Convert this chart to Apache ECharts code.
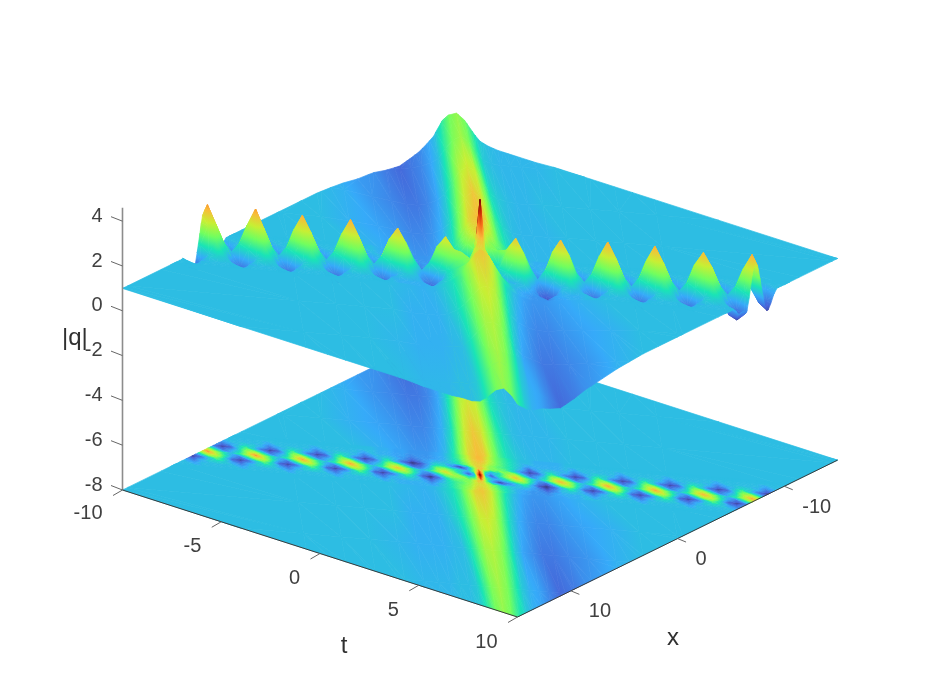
<!DOCTYPE html>
<html><head><meta charset="utf-8">
<style>html,body{margin:0;padding:0;background:#fff}#c{width:926px;height:695px}</style>
<script src="https://cdn.jsdelivr.net/npm/echarts@6/dist/echarts.min.js"></script>
</head><body><div id="c"></div>
<script>
// ---- tick labels ----
const zTicks = [4, 2, 0, -2, -4, -6, -8];
const tTicks = [-10, -5, 0, 5, 10];
const xTicks = [10, 0, -10];

// ---- heights, |q| x 10 ----
// Mesh follows the two features: v = offset from the breather chain, w = offset from the soliton band.
const chainV = [-3, -2.5, -2, -1.5, -1, -0.5, 0, 0.5, 1, 1.5, 2, 2.5, 3];
const chainW = [-16.55,-16.1,-15.65,-15.2,-14.8,
 -14.39,-13.97,-13.55,-13.12,-12.7,-12.27,
 -11.85,-11.44,-11.03,-10.62,-10.2,-9.79,
 -9.38,-8.96,-8.53,-8.11,-7.69,-7.26,
 -6.84,-6.43,-6.01,-5.6,-5.18,-4.77,
 -4.35,-3.93,-3.51,-3.08,-2.66,-2.24,
 -1.82,-1.4,-1,-0.6,-0.3,-0.15,0,0.15,0.3,0.6,1,1.4,
 1.88,2.28,2.67,3.06,3.46,3.85,
 4.25,4.67,5.08,5.5,5.91,6.33,
 6.74,7.16,7.57,7.99,8.4,8.82,
 9.23,9.66,10.08,10.51,10.94,11.36,
 11.79,12.22,12.64,13.07,13.5,13.93,
 14.36,14.78,15.2,15.62,16.04,16.46,16.6];
const chainM30 = [10,10,10,10,10, 10,10,10,10,10,10, 10,10,10,10,10,10, 10,10,10,10,10,10, 10,10,10,10,9,9, 8,8,7,7,7,8, 9,12,16,22,26,27,28,28,27,23,18,15, 12,10,10,9,9,9, 9,10,10,10,10,10, 10,10,10,10,10,10, 10,10,10,10,10,10, 10,10,10,10,10,10, 10,10,10,10,10,10,10];
const chainM25 = [10,10,10,10,10, 10,10,10,10,10,10, 10,10,10,10,10,10, 10,10,10,10,10,10, 10,10,10,10,9,9, 8,8,7,7,7,8, 9,12,16,22,26,27,28,28,27,23,18,15, 12,10,10,9,9,9, 9,10,10,10,10,10, 10,10,10,10,10,10, 10,10,10,10,10,10, 10,10,10,10,10,10, 10,10,10,10,10,10,10];
const chainM20 = [10,8,10,10,10, 10,10,8,10,10,10, 10,10,8,10,10,10, 10,10,8,10,10,10, 10,10,8,10,9,9, 8,8,6,7,7,8, 9,12,15,21,25,26,27,27,26,22,18,15, 12,10,8,9,9,9, 9,10,8,10,10,10, 10,10,8,10,10,10, 10,10,8,10,10,10, 10,10,8,10,10,10, 10,10,8,10,10,10,10];
const chainM15 = [9,5,8,10,12, 11,9,5,8,10,12, 11,9,5,8,10,12, 11,9,5,8,10,12, 11,9,5,8,10,11, 9,7,4,6,8,10, 10,11,14,19,24,26,26,26,24,20,17,15, 12,9,4,8,10,11, 10,9,5,8,10,12, 11,9,5,8,10,12, 11,9,5,8,10,12, 11,9,5,8,10,12, 11,9,5,8,10,12,11];
const chainM10 = [5,2,4,11,17, 11,5,2,4,11,17, 11,5,2,4,11,17, 11,5,2,4,11,17, 11,5,2,4,10,15, 9,4,1,3,8,13, 12,7,2,8,18,24,27,27,24,19,18,17, 12,6,2,4,10,15, 10,5,2,4,11,17, 11,5,2,4,11,17, 11,5,2,4,11,17, 11,5,2,4,11,17, 11,5,2,4,11,17,11];
const chainM05 = [13,5,8,12,21, 22,13,5,8,12,21, 22,13,5,8,12,21, 22,13,5,8,12,21, 22,13,5,8,12,20, 20,12,4,5,10,19, 20,15,12,9,18,26,36,26,14,9,13,20, 22,13,5,8,12,21, 21,13,5,8,12,21, 22,13,5,8,12,21, 22,13,5,8,12,21, 22,13,5,8,12,21, 22,13,5,8,12,21,22];
const chain00 = [22,14,10,14,22, 30,22,14,10,14,22, 30,22,14,10,14,22, 29,22,14,10,14,22, 29,22,14,10,14,22, 27,21,14,9,13,20, 25,19,12,4,10,30,43,30,10,4,13,20, 27,21,14,9,14,22, 28,22,14,10,14,22, 29,22,14,10,14,22, 29,22,14,10,14,22, 28,22,14,10,14,22, 29,22,14,10,14,22,29];
const chainP05 = [23,15,8,5,13, 22,23,15,8,5,13, 22,23,15,8,5,13, 22,23,15,8,5,13, 22,23,15,8,5,13, 20,21,14,7,5,11, 19,21,20,14,16,26,36,26,16,10,9,13, 20,21,13,6,4,11, 21,22,14,8,5,13, 22,23,15,8,5,13, 22,23,15,8,5,13, 22,23,15,8,5,13, 22,23,15,8,5,13,22];
const chainP10 = [17,12,4,2,5, 11,17,12,4,2,5, 11,17,12,4,2,5, 11,17,12,4,2,5, 11,17,12,4,2,5, 10,15,11,4,1,5, 13,17,18,19,24,27,27,24,18,8,2,6, 10,14,9,3,1,4, 10,15,11,4,2,5, 11,17,12,4,2,5, 11,17,12,4,2,5, 11,17,12,4,2,5, 11,17,12,4,2,5,11];
const chainP15 = [12,11,8,5,9, 11,12,11,8,5,9, 11,12,11,8,5,9, 11,12,11,8,5,9, 11,12,11,8,5,9, 10,11,10,8,4,8, 12,15,17,20,24,25,25,25,23,19,14,11, 10,10,8,6,3,6, 10,11,10,8,5,9, 11,12,11,8,5,9, 11,12,11,8,5,9, 11,12,11,8,5,9, 11,12,11,8,5,9,11];
const chainP20 = [10,10,10,8,10, 10,10,10,10,8,10, 10,10,10,10,8,10, 10,10,10,10,8,10, 10,10,10,10,8,10, 9,9,9,9,7,10, 12,15,18,21,25,26,26,25,24,20,15,12, 9,8,7,7,6,8, 9,9,9,10,8,10, 10,10,10,10,8,10, 10,10,10,10,8,10, 10,10,10,10,8,10, 10,10,10,10,8,10,10];
const chainP25 = [10,10,10,10,10, 10,10,10,10,10,10, 10,10,10,10,10,10, 10,10,10,10,10,10, 10,10,10,10,10,10, 9,9,9,9,9,10, 12,15,18,22,26,27,27,26,25,21,16,12, 9,8,7,7,7,8, 8,9,9,10,10,10, 10,10,10,10,10,10, 10,10,10,10,10,10, 10,10,10,10,10,10, 10,10,10,10,10,10,10];
const chainP30 = [10,10,10,10,10, 10,10,10,10,10,10, 10,10,10,10,10,10, 10,10,10,10,10,10, 10,10,10,10,10,10, 9,9,9,9,9,10, 12,15,18,22,26,27,27,26,25,21,16,12, 9,8,7,7,7,8, 8,9,9,10,10,10, 10,10,10,10,10,10, 10,10,10,10,10,10, 10,10,10,10,10,10, 10,10,10,10,10,10,10];
const farW = [-20,-10,-8,-6.5,-5,-4,-3.2,-2.6,-2.1,-1.6,-1.2,-0.8,-0.4,0,0.4,0.8,1.2,1.6,2.1,2.6,3.2,4,5,6.5,8,10,20];
const backV = [-23, -18, -12, -7, -2.6];
const backA = [10,10,9,8,7,5,4,5,6,8,10,14,18,20,18,14,11,10,9.5,9.5,9.5,9.5,10,10,10,10,10];
const backB = [10,10,9,8,7,5,4,5,6,8,10,15,19,21,19,15,11,10,9.5,9.5,9.5,9.5,10,10,10,10,10];
const backC = [10,10,10,9,7,6,5,5,6,8,11,16,22,24,23,18,13,11,10,9.5,9.5,10,10,10,10,10,10];
const backD = [10,10,10,9,8,7,6,6,7,9,12,18,24,27,25,20,15,12,10,9.5,9.5,9.5,10,10,10,10,10];
const backE = [10,10,10,10,9,8,7,7,8,10,14,20,26,28,27,21,16,13,11,10,9.5,9.5,10,10,10,10,10];
const frontV = [2.6, 7, 12, 18, 23];
const frontA = [10,10,10,10,10,9.5,9,9.5,11,13,16,21,26,27,24,18,13,10,8,7,7,8,9,10,10,10,10];
const frontB = [10,10,10,10,10,9,9,9,10,12,15,19,23,24,22,17,12,9,7,6,6,7,8,9,10,10,10];
const frontC = [10,10,10,10,9.5,9,9,9,9.5,10,13,17,21,22,20,16,11,8,6.5,5,5,6,7,9,10,10,10];
const frontD = [10,10,10,10,10,9.5,9.5,9.5,10,10,11,15,19,21,19,15,11,9,8,6,4,5,7,9,10,10,10];
const frontE = [10,10,10,10,10,9.5,9.5,9.5,10,10,11,14,18,20,18,14,11,9,8,6,4,5,7,9,10,10,10];

const chainRows = [chainM30,chainM25,chainM20,chainM15,chainM10,chainM05,chain00,chainP05,chainP10,chainP15,chainP20,chainP25,chainP30];
const backRows = [backA,backB,backC,backD,backE];
const frontRows = [frontA,frontB,frontC,frontD,frontE];
[[chainRows,chainW],[backRows,farW],[frontRows,farW]].forEach(([r,c])=>r.forEach((a,i)=>{if(a.length!==c.length)throw new Error('row '+i+' has '+a.length+' not '+c.length);}));

// ---- view: projects (t, x, |q|) onto the plane of the hidden cartesian axes ----
const view = {ox:517.5, oy:617, tx:19.75, ty:6.35, xx:10.67, xy:-5.23, zy:-22.4, floor:-8};
const projX = (t,x) => view.ox + (t-10)*view.tx + (15-x)*view.xx;
const projY = (t,x,z) => view.oy + (t-10)*view.ty + (15-x)*view.xy + (z-view.floor)*view.zy;

const meshPoint = (v,w,h) => { const t=(w+0.62*v)/1.465; return {t, x:v-0.75*t, z:h/10}; };
const bounds = [['t',-10,1],['t',10,-1],['x',-15,1],['x',15,-1]];
function clip(poly){
  for(const [k,lim,s] of bounds){
    const out=[];
    for(let i=0;i<poly.length;i++){
      const a=poly[i], b=poly[(i+1)%poly.length];
      const da=s*(a[k]-lim), db=s*(b[k]-lim);
      if(da>=0) out.push(a);
      if((da>=0)!==(db>=0)){ const f=da/(da-db); out.push({t:a.t+f*(b.t-a.t),x:a.x+f*(b.x-a.x),z:a.z+f*(b.z-a.z)}); }
    }
    poly=out; if(!poly.length) return poly;
  }
  return poly;
}
function patchTriangles(vs,ws,rows){
  const tris=[];
  for(let i=0;i<vs.length-1;i++) for(let j=0;j<ws.length-1;j++){
    const a=meshPoint(vs[i],ws[j],rows[i][j]), b=meshPoint(vs[i],ws[j+1],rows[i][j+1]),
          c=meshPoint(vs[i+1],ws[j+1],rows[i+1][j+1]), d=meshPoint(vs[i+1],ws[j],rows[i+1][j]);
    for(const tri of [[a,b,c],[a,c,d]]){
      const p=clip(tri);
      for(let k=1;k+1<p.length;k++) tris.push([p[0],p[k],p[k+1]]);
    }
  }
  const key=q=>q.reduce((s,p)=>s+projY(p.t,p.x,view.floor),0);
  return tris.sort((m,n)=>key(m)-key(n));
}
const patches=[patchTriangles(backV,farW,backRows),patchTriangles(chainV,chainW,chainRows),patchTriangles(frontV,farW,frontRows)];
const surfaceData=[], floorData=[];
for(const list of patches) for(const q of list){
  surfaceData.push(q.flatMap(p=>[projX(p.t,p.x),projY(p.t,p.x,p.z),p.z]));
  floorData.push(q.flatMap(p=>[projX(p.t,p.x),projY(p.t,p.x,view.floor),p.z]));
}

// ---- colour scale ----
const palette=['#30123B','#4662D7','#36AAF9','#1AE4B6','#72FE5E','#C7EF34','#FABA39','#F66B19','#CB2A04','#7A0403'];
const zLo=-0.15, zHi=4.3;
const rgb=h=>[1,3,5].map(i=>parseInt(h.substr(i,2),16));
function colorAt(z){
  const f=Math.max(0,Math.min(1,(z-zLo)/(zHi-zLo)))*(palette.length-1);
  const i=Math.min(palette.length-2,Math.floor(f)), u=f-i, a=rgb(palette[i]), b=rgb(palette[i+1]);
  return 'rgb('+a.map((c,k)=>Math.round(c+u*(b[k]-c))).join(',')+')';
}
function fillFor(p){ // p: three [px,py,z]; a linear gradient that follows the triangle's plane
  const [A,B,C]=p;
  const d=(B[0]-A[0])*(C[1]-A[1])-(C[0]-A[0])*(B[1]-A[1]);
  const lo=Math.min(A[2],B[2],C[2]), hi=Math.max(A[2],B[2],C[2]);
  if(Math.abs(d)<0.01||hi-lo<0.005) return colorAt((A[2]+B[2]+C[2])/3);
  const gx=((B[2]-A[2])*(C[1]-A[1])-(C[2]-A[2])*(B[1]-A[1]))/d;
  const gy=((C[2]-A[2])*(B[0]-A[0])-(B[2]-A[2])*(C[0]-A[0]))/d;
  const g2=gx*gx+gy*gy, s=p.find(q=>q[2]===lo), span=hi-lo;
  const stops=[{offset:0,color:colorAt(lo)}];
  const step=(zHi-zLo)/(palette.length-1);
  for(let k=Math.ceil((lo-zLo)/step+1e-6);zLo+k*step<hi;k++) stops.push({offset:(zLo+k*step-lo)/span,color:colorAt(zLo+k*step)});
  stops.push({offset:1,color:colorAt(hi)});
  return {type:'linear',global:true,x:s[0],y:s[1],x2:s[0]+gx/g2*span,y2:s[1]+gy/g2*span,colorStops:stops};
}
function renderTriangle(params,api){
  const p=[0,3,6].map(i=>{const c=api.coord([api.value(i),api.value(i+1)]);return [c[0],c[1],api.value(i+2)];});
  const fill=fillFor(p);
  return {type:'polygon',silent:true,shape:{points:p.map(q=>[q[0],q[1]])},style:{fill,stroke:fill,lineWidth:0.7}};
}

// ---- axes drawn in the same projected plane ----
const axisGrey='#404040', labelFont='"Liberation Sans",Arial,sans-serif';
const lineItems=[], textItems=[];
const seg=(x0,y0,x1,y1,color,w)=>lineItems.push({p:[x0,y0,x1,y1],color,w});
const lab=(x,y,text,align,size,color)=>textItems.push({p:[x,y],text:String(text),align,size,color});
const T0=-10,T1=10,X0=-15,X1=15;
seg(projX(T0,X1),projY(T0,X1,-8),projX(T0,X1),projY(T0,X1,4.6),'#8c8c8c',1.6);
seg(projX(T0,X1),projY(T0,X1,-8),projX(T1,X1),projY(T1,X1,-8),'#3a3a3a',1);
seg(projX(T1,X1),projY(T1,X1,-8),projX(T1,X0),projY(T1,X0,-8),'#3a3a3a',1);
zTicks.forEach(z=>{const x=projX(T0,X1),y=projY(T0,X1,z);seg(x,y,x-11.5,y-4.5,'#666',1);lab(x-20,y-5,z,'right',20,axisGrey);});
tTicks.forEach(t=>{const x=projX(t,X1),y=projY(t,X1,-8);seg(x,y,x-9.5,y+5.5,'#666',1);lab(x-20,y+(t===-10?23:25),t,'right',20,axisGrey);});
xTicks.forEach(v=>{const x=projX(T1,v),y=projY(T1,v,-8);seg(x,y,x+8.5,y+3.5,'#666',1);lab(x+18,y+21,v,'left',20,axisGrey);});
lab(62,338,'|q|','left',24,'#303030');
lab(344,646,'t','center',24,'#303030');
lab(673,638,'x','center',24,'#303030');

const chart=echarts.init(document.getElementById('c'),null,{renderer:'canvas'});
const triangleDims=['x0','y0','z0','x1','y1','z1','x2','y2','z2'];
chart.setOption({
  animation:false,backgroundColor:'#fff',
  grid:{left:0,right:0,top:0,bottom:0},
  xAxis:{type:'value',min:0,max:926,show:false},
  yAxis:{type:'value',min:0,max:695,inverse:true,show:false},
  tooltip:{show:false},
  series:[
    {type:'custom',name:'floor',coordinateSystem:'cartesian2d',clip:false,progressive:0,silent:true,dimensions:triangleDims,encode:{x:0,y:1},data:floorData,renderItem:renderTriangle,z:1},
    {type:'custom',name:'|q|',coordinateSystem:'cartesian2d',clip:false,progressive:0,silent:true,dimensions:triangleDims,encode:{x:0,y:1},data:surfaceData,renderItem:renderTriangle,z:2},
    {type:'custom',name:'axis lines',coordinateSystem:'cartesian2d',clip:false,silent:true,encode:{x:0,y:1},data:lineItems.map(l=>l.p),z:3,
      renderItem:(params,api)=>{const l=lineItems[params.dataIndex],a=api.coord([l.p[0],l.p[1]]),b=api.coord([l.p[2],l.p[3]]);
        return {type:'line',silent:true,shape:{x1:a[0],y1:a[1],x2:b[0],y2:b[1]},style:{stroke:l.color,lineWidth:l.w}};}},
    {type:'custom',name:'axis text',coordinateSystem:'cartesian2d',clip:false,silent:true,encode:{x:0,y:1},data:textItems.map(l=>l.p),z:4,
      renderItem:(params,api)=>{const l=textItems[params.dataIndex],a=api.coord(l.p);
        return {type:'text',silent:true,x:a[0],y:a[1],style:{text:l.text,font:l.size+'px '+labelFont,fill:l.color,align:l.align,verticalAlign:'middle'}};}}
  ]
});
</script></body></html>
